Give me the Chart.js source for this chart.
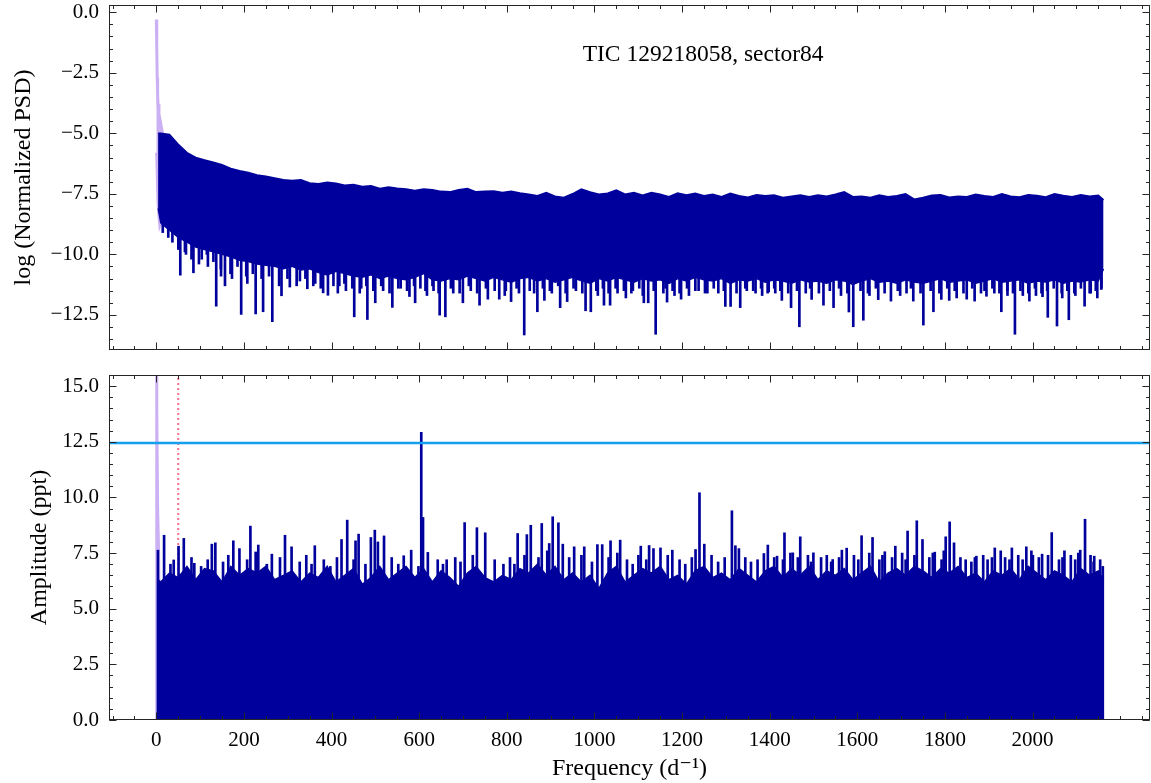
<!DOCTYPE html>
<html>
<head>
<meta charset="utf-8">
<title>TIC 129218058 periodogram</title>
<script src="https://cdn.jsdelivr.net/npm/chart.js@4.4.1/dist/chart.umd.min.js"></script>
<style>
  html, body { margin: 0; padding: 0; background: #fff; }
  #wrap { position: relative; width: 1151px; height: 783px; }
  #psdChart { position: absolute; left: 0; top: 0; }
  #ampChart { position: absolute; left: 0; top: 360px; }
</style>
</head>
<body>
<div id="wrap">
  <canvas id="psdChart" width="1151" height="360"></canvas>
  <canvas id="ampChart" width="1151" height="423"></canvas>
</div>
<script>
// ---- Data ----
// envelope sample frequencies (d^-1), shared by both panels
const envFreq = [4, 10, 30, 50, 70, 90, 110, 130, 150, 170,
  190, 210, 230, 250, 270, 290, 310, 330, 350, 370,
  390, 410, 430, 450, 470, 490, 510, 530, 550, 570,
  590, 610, 630, 650, 670, 690, 710, 730, 750, 770,
  790, 810, 830, 850, 870, 890, 910, 930, 950, 970,
  990, 1010, 1030, 1050, 1070, 1090, 1110, 1130, 1150, 1170,
  1190, 1210, 1230, 1250, 1270, 1290, 1310, 1330, 1350, 1370,
  1390, 1410, 1430, 1450, 1470, 1490, 1510, 1530, 1550, 1570,
  1590, 1610, 1630, 1650, 1670, 1690, 1710, 1730, 1750, 1770,
  1790, 1810, 1830, 1850, 1870, 1890, 1910, 1930, 1950, 1970,
  1990, 2010, 2030, 2050, 2070, 2090, 2110, 2130, 2150, 2162];

// top panel: upper edge / lower body edge of log PSD
const psdUpper = [-5.0, -5.0, -5.05, -5.45, -5.8, -6.0, -6.1, -6.2, -6.3, -6.45,
  -6.55, -6.62, -6.72, -6.78, -6.85, -6.92, -6.95, -6.92, -7.05, -7.08,
  -7.02, -7.06, -7.15, -7.12, -7.2, -7.17, -7.28, -7.22, -7.27, -7.3,
  -7.36, -7.3, -7.33, -7.4, -7.42, -7.33, -7.28, -7.42, -7.4, -7.38,
  -7.45, -7.4, -7.47, -7.52, -7.58, -7.45, -7.6, -7.65, -7.5, -7.3,
  -7.42, -7.52, -7.48, -7.35, -7.52, -7.45, -7.56, -7.45, -7.52, -7.62,
  -7.47, -7.55, -7.48, -7.58, -7.52, -7.62, -7.48, -7.58, -7.64, -7.54,
  -7.58, -7.55, -7.65, -7.6, -7.55, -7.62, -7.55, -7.6, -7.52, -7.42,
  -7.62, -7.6, -7.65, -7.55, -7.62, -7.58, -7.5, -7.72, -7.65, -7.56,
  -7.54, -7.64, -7.6, -7.62, -7.52, -7.58, -7.62, -7.5, -7.6, -7.63,
  -7.54, -7.57, -7.63, -7.5, -7.57, -7.62, -7.54, -7.6, -7.56, -7.75];
const psdLower = [-8.1, -8.7, -9.0, -9.3, -9.5, -9.7, -9.8, -9.9, -10.0, -10.1,
  -10.25, -10.3, -10.4, -10.45, -10.5, -10.6, -10.5, -10.65, -10.6, -10.75,
  -10.85, -10.7, -10.8, -10.9, -10.95, -10.85, -11.0, -10.9, -11.0, -11.05,
  -10.95, -10.8, -11.05, -11.1, -11.0, -11.05, -10.9, -11.0, -11.1, -10.95,
  -11.05, -11.15, -11.0, -10.95, -11.1, -11.0, -11.15, -11.05, -10.95, -11.1,
  -11.2, -11.0, -11.1, -10.95, -11.05, -11.15, -11.0, -11.1, -11.05, -11.2,
  -11.0, -11.1, -10.95, -11.05, -11.1, -11.0, -11.2, -11.05, -11.1, -11.0,
  -11.15, -11.05, -11.1, -11.2, -11.05, -11.15, -11.1, -11.2, -11.05, -11.1,
  -11.25, -11.1, -11.0, -11.15, -11.1, -11.2, -11.05, -11.15, -11.2, -11.1,
  -11.0, -11.15, -11.1, -11.05, -11.2, -11.1, -11.0, -11.15, -11.1, -11.05,
  -11.2, -11.1, -11.15, -11.05, -11.2, -11.1, -11.15, -11.05, -11.1, -10.6];

// top panel: deep downward spikes
const dipFreq = [17, 39, 57, 70, 87, 106, 120, 139, 150, 159,
  175, 196, 210, 229, 246, 267, 288, 307, 330, 347,
  365, 383, 394, 420, 435, 454, 470, 484, 502, 520,
  541, 560, 580, 593, 605, 620, 635, 649, 662, 680,
  702, 720, 740, 759, 785, 800, 812, 830, 842, 872,
  888, 905, 924, 940, 960, 982, 994, 1010, 1024, 1038,
  1055, 1074, 1090, 1115, 1125, 1142, 1168, 1185, 1200, 1218,
  1240, 1260, 1285, 1301, 1313, 1335, 1350, 1370, 1385, 1400,
  1415, 1430, 1451, 1470, 1498, 1525, 1548, 1565, 1583, 1593,
  1616, 1630, 1650, 1679, 1700, 1730, 1753, 1776, 1794, 1812,
  1829, 1852, 1870, 1897, 1915, 1931, 1945, 1962, 1980, 1995,
  2010, 2025, 2037, 2058, 2070, 2085, 2100, 2121, 2135, 2150, 2159];
const dipVal = [-9.1, -9.5, -10.86, -10.0, -10.76, -10.2, -10.5, -12.14, -10.9, -11.3,
  -11.0, -12.48, -11.2, -12.46, -12.37, -12.78, -11.71, -11.35, -11.1, -11.42,
  -11.2, -11.59, -11.69, -11.3, -11.5, -12.58, -11.4, -12.69, -12.0, -11.5,
  -12.19, -11.4, -11.74, -12.0, -11.4, -11.7, -11.5, -12.51, -12.58, -11.6,
  -12.0, -11.5, -12.1, -11.85, -11.85, -11.5, -11.95, -11.6, -13.33, -12.37,
  -11.9, -11.6, -12.2, -11.95, -11.5, -12.33, -12.37, -11.7, -12.1, -12.1,
  -11.6, -11.8, -11.5, -12.0, -12.0, -13.3, -11.97, -11.7, -11.85, -11.7,
  -11.5, -11.6, -11.6, -12.15, -12.15, -12.2, -11.5, -11.6, -11.7, -11.55,
  -11.6, -11.9, -12.2, -12.99, -11.86, -12.1, -12.2, -11.7, -12.38, -12.99,
  -12.72, -11.7, -11.87, -11.93, -11.7, -11.93, -12.92, -12.37, -11.86, -11.9,
  -11.8, -11.85, -11.93, -11.73, -11.6, -12.37, -11.7, -13.3, -11.7, -11.93,
  -11.7, -11.75, -12.6, -12.96, -11.8, -12.7, -11.7, -12.14, -11.6, -11.8, -11.45];

// top panel: shallower dips between the deep ones
const smallDipFreq = [25, 48, 63, 78, 95, 113, 128, 145, 167, 183,
  203, 218, 238, 255, 278, 297, 318, 338, 356, 373,
  402, 412, 427, 445, 462, 477, 493, 511, 530, 550,
  570, 586, 612, 628, 642, 670, 690, 711, 730, 750,
  770, 793, 820, 850, 860, 880, 896, 915, 932, 950,
  970, 1002, 1017, 1030, 1046, 1065, 1082, 1100, 1108, 1133,
  1155, 1160, 1176, 1192, 1209, 1228, 1250, 1270, 1293, 1322,
  1342, 1360, 1378, 1393, 1408, 1422, 1440, 1460, 1480, 1490,
  1510, 1535, 1556, 1575, 1605, 1622, 1640, 1660, 1690, 1710,
  1720, 1742, 1765, 1785, 1803, 1820, 1840, 1860, 1880, 1888,
  1906, 1922, 1940, 1953, 1970, 1988, 2003, 2018, 2031, 2046,
  2064, 2077, 2093, 2108, 2128, 2142, 2155];
const smallDipVal = [-9.3, -9.8, -9.9, -10.2, -10.4, -10.0, -10.3, -10.6, -10.8, -10.5,
  -10.9, -10.8, -11.0, -10.9, -11.3, -11.0, -11.3, -11.0, -11.3, -11.4,
  -11.3, -11.6, -11.2, -11.4, -11.6, -11.3, -11.5, -11.3, -11.6, -11.4,
  -11.5, -11.3, -11.5, -11.3, -11.6, -11.4, -11.6, -11.3, -11.6, -11.4,
  -11.5, -11.7, -11.4, -11.5, -11.6, -11.4, -11.5, -11.3, -11.6, -11.4,
  -11.6, -11.5, -11.4, -11.6, -11.4, -11.5, -11.6, -11.4, -11.7, -11.5,
  -11.6, -11.4, -11.5, -11.6, -11.4, -11.5, -11.6, -11.4, -11.5, -11.6,
  -11.4, -11.5, -11.4, -11.6, -11.4, -11.5, -11.6, -11.5, -11.6, -11.4,
  -11.6, -11.5, -11.4, -11.6, -11.5, -11.6, -11.4, -11.6, -11.5, -11.6,
  -11.4, -11.6, -11.5, -11.6, -11.4, -11.5, -11.6, -11.4, -11.6, -11.5,
  -11.4, -11.6, -11.5, -11.6, -11.5, -11.6, -11.4, -11.6, -11.5, -11.4,
  -11.6, -11.5, -11.6, -11.4, -11.6, -11.5, -11.4];

// top panel: low-frequency part (light curve)
const lilacFreq = [0, 1, 2, 3, 4, 6, 8, 10, 12, 14];
const lilacHigh = [-0.3, -1.5, -2.7, -3.4, -3.8, -4.2, -4.4, -4.6, -4.8, -5.0];
const lilacLow  = [-5.8, -5.9, -6.6, -7.3, -7.9, -8.4, -8.8, -8.7, -8.3, -7.8];

// bottom panel: amplitude body edge (ppt)
const ampEnv = [6.3, 6.2, 6.6, 6.4, 6.9, 6.3, 6.8, 6.7, 6.2, 6.9,
  6.5, 6.8, 6.6, 6.9, 6.3, 6.5, 6.7, 6.2, 6.6, 6.4,
  6.9, 6.2, 6.5, 6.8, 6.1, 6.4, 6.9, 6.3, 6.6, 6.9,
  6.4, 6.8, 6.2, 6.7, 6.4, 6.0, 6.6, 6.9, 6.4, 6.2,
  6.5, 6.3, 6.8, 6.6, 7.0, 6.5, 6.9, 6.3, 6.6, 6.2,
  6.5, 5.9, 6.6, 6.9, 6.2, 6.5, 6.8, 6.6, 6.9, 6.3,
  6.5, 6.1, 6.7, 6.9, 6.4, 6.6, 6.3, 6.8, 6.5, 6.2,
  6.7, 6.9, 6.4, 6.8, 6.5, 6.9, 6.3, 6.7, 6.5, 6.8,
  6.3, 6.6, 6.9, 6.2, 6.6, 6.8, 6.5, 6.9, 6.7, 6.4,
  6.8, 6.6, 6.9, 6.4, 6.6, 6.2, 6.7, 6.5, 6.8, 6.3,
  6.9, 6.6, 6.3, 6.7, 6.5, 6.2, 6.8, 6.5, 6.7, 6.3];

// bottom panel: tall peaks
const peakFreq = [6, 20, 42, 53, 65, 89, 129, 137, 178, 192,
  217, 229, 235, 266, 296, 311, 364, 425, 438, 457,
  464, 492, 501, 508, 522, 567, 584, 607, 611, 622,
  665, 706, 734, 753, 827, 848, 857, 882, 899, 907,
  920, 930, 956, 979, 1009, 1020, 1039, 1061, 1108, 1127,
  1137, 1153, 1180, 1233, 1242, 1253, 1316, 1324, 1332, 1389,
  1398, 1419, 1436, 1455, 1472, 1502, 1546, 1567, 1578, 1612,
  1637, 1665, 1689, 1717, 1738, 1751, 1779, 1804, 1813, 1823,
  1874, 1916, 1955, 1988, 2003, 2024, 2046, 2075, 2111, 2122, 2143];
const peakVal = [7.63, 8.3, 7.19, 7.81, 8.16, 7.04, 7.9, 7.96, 8.05, 7.7,
  8.71, 7.55, 7.86, 7.45, 8.3, 7.78, 7.83, 8.11, 8.98, 8.05,
  8.35, 8.2, 8.53, 8.0, 8.27, 7.38, 7.63, 12.92, 9.1, 7.53,
  7.2, 8.87, 8.64, 8.41, 8.38, 8.33, 8.75, 8.83, 7.93, 9.13,
  8.86, 7.9, 7.78, 7.78, 7.88, 7.88, 8.05, 8.08, 7.81, 7.84,
  7.7, 7.73, 7.63, 7.66, 10.21, 7.9, 9.4, 7.83, 7.7, 7.48,
  7.86, 7.36, 8.41, 7.51, 8.23, 7.51, 7.21, 7.63, 7.72, 8.28,
  8.2, 7.56, 7.81, 8.49, 8.95, 8.11, 7.54, 8.23, 8.9, 7.96,
  7.36, 7.73, 7.73, 7.78, 7.4, 7.45, 8.42, 7.6, 7.63, 9.02, 7.36];

// bottom panel: medium peaks between the tall ones
const smallPeakFreq = [30, 78, 100, 115, 150, 162, 205, 250, 280, 325,
  340, 352, 380, 395, 410, 448, 475, 535, 550, 596,
  640, 652, 680, 692, 720, 770, 790, 805, 815, 838,
  870, 890, 940, 968, 992, 1030, 1050, 1072, 1085, 1098,
  1116, 1165, 1192, 1205, 1220, 1265, 1280, 1295, 1342, 1355,
  1370, 1408, 1428, 1445, 1462, 1485, 1492, 1515, 1528, 1538,
  1556, 1590, 1600, 1625, 1648, 1655, 1677, 1700, 1708, 1728,
  1762, 1770, 1790, 1795, 1833, 1845, 1858, 1866, 1885, 1895,
  1905, 1925, 1935, 1945, 1965, 1975, 1995, 2012, 2033, 2058,
  2066, 2085, 2095, 2102, 2130, 2137, 2152, 2158];
const smallPeakVal = [7.0, 7.3, 6.9, 7.2, 7.1, 7.4, 7.2, 7.0, 7.3, 7.1,
  7.4, 7.0, 7.2, 6.9, 7.3, 7.2, 7.0, 7.3, 7.0, 6.9,
  7.2, 7.0, 7.3, 7.1, 7.4, 7.2, 7.0, 7.3, 7.0, 7.4,
  7.3, 7.6, 7.3, 7.4, 7.1, 7.3, 7.5, 7.2, 7.0, 7.4,
  7.2, 7.4, 7.2, 7.0, 7.3, 7.4, 7.1, 7.3, 7.3, 7.1,
  7.2, 7.3, 7.2, 7.5, 7.3, 7.4, 7.1, 7.3, 7.4, 7.1,
  7.3, 7.4, 7.2, 7.5, 7.2, 7.4, 7.3, 7.5, 7.2, 7.4,
  7.3, 7.5, 7.2, 7.6, 7.3, 7.2, 7.1, 7.3, 7.4, 7.2,
  7.3, 7.6, 7.3, 7.2, 7.4, 7.2, 7.6, 7.3, 7.4, 7.2,
  7.3, 7.4, 7.2, 7.5, 7.4, 7.1, 7.2, 6.9];

// bottom panel: low-frequency part (light curve)
const lilacAmpFreq = [0, 0.5, 1.5, 3, 5, 7, 9, 12];
const lilacAmp     = [0, 40, 14, 9.5, 7.8, 4, 1, 0];

const ampThreshold = 12.45;   // significance level (ppt)
const cutoffFreq = 50;        // dotted marker (d^-1)

// ticks
const freqTicks = [0, 200, 400, 600, 800, 1000, 1200, 1400, 1600, 1800, 2000];
const psdTicks = [-12.5, -10, -7.5, -5, -2.5, 0];
const ampTicks = [0, 2.5, 5, 7.5, 10, 12.5, 15];

// ---- Styles ----
const SERIF = '"Liberation Serif", "DejaVu Serif", serif';
const DARK = '#00009c';
const LILAC = '#cbb1f4';
const SKY = '#14a0ef';
const PINK = '#f4708c';
const X_MIN = -108, X_MAX = 2268;

const toPts = (xs, ys) => xs.map((x, i) => ({ x, y: ys[i] }));
const fmt = v => Number(v).toFixed(1).replace('-', '\u2212');

// ---- Frame with inward ticks on all four sides ----
const frameTicks = {
  id: 'frameTicks',
  afterDatasetsDraw(chart) {
    const { ctx, chartArea: a } = chart;
    const xs = chart.scales.x, ys = chart.scales.y;
    const cfg = chart.config.options.frame;
    const T = Math.round(a.top) + 0.5, B = Math.round(a.bottom) - 0.5;
    const L = Math.round(a.left) + 0.5, R = Math.round(a.right) - 0.5;
    ctx.save();
    ctx.strokeStyle = '#262626';
    ctx.lineWidth = 1;
    ctx.beginPath();
    const tx = (v, len) => {
      const p = Math.round(xs.getPixelForValue(v)) + 0.5;
      ctx.moveTo(p, B); ctx.lineTo(p, B - len);
      ctx.moveTo(p, T); ctx.lineTo(p, T + len);
    };
    const ty = (v, len) => {
      const p = Math.round(ys.getPixelForValue(v)) + 0.5;
      ctx.moveTo(L, p); ctx.lineTo(L + len, p);
      ctx.moveTo(R, p); ctx.lineTo(R - len, p);
    };
    for (let k = Math.ceil(xs.min / 50); k * 50 <= xs.max; k++) tx(k * 50, 3.5);
    freqTicks.forEach(v => tx(v, 7));
    for (let k = Math.ceil(ys.min / 0.5); k * 0.5 <= ys.max; k++) ty(k * 0.5, 3.5);
    cfg.yMajor.forEach(v => ty(v, 7));
    ctx.stroke();
    ctx.strokeRect(L, T, R - L, B - T);
    ctx.restore();
  }
};

// ---- Text label inside the top panel ----
const tag = {
  id: 'tag',
  afterDraw(chart) {
    const { ctx, chartArea: a } = chart;
    ctx.save();
    ctx.fillStyle = '#000';
    ctx.font = '23.5px ' + SERIF;
    ctx.textBaseline = 'middle';
    ctx.fillText('TIC 129218058, sector84', a.left + 0.455 * a.width, a.top + 0.145 * a.height);
    ctx.restore();
  }
};

const yAxis = (min, max, ticks, title, titlePad) => ({
  type: 'linear', min, max,
  afterBuildTicks: s => { s.ticks = ticks.map(v => ({ value: v })); },
  afterFit: s => { s.width = 109; s.paddingTop = 0; s.paddingBottom = 0; },
  grid: { display: false, drawTicks: false },
  border: { display: false },
  ticks: { padding: 10, color: '#000', font: { family: SERIF, size: 21 }, callback: fmt },
  title: { display: true, text: title, color: '#000',
           font: { family: SERIF, size: 24, lineHeight: 1.2 }, padding: { top: titlePad, bottom: 0 } }
});

const common = {
  responsive: false, animation: false, devicePixelRatio: 1,
  elements: { point: { radius: 0 }, line: { tension: 0 } },
  plugins: { legend: { display: false }, tooltip: { enabled: false } }
};

const spikes = (fs, vs, base) => fs.map((f, i) => ({ x: f, y: [vs[i], base] }));

// ---- Top panel: log PSD ----
new Chart(document.getElementById('psdChart'), {
  type: 'line',
  data: {
    datasets: [
      { data: toPts(envFreq, psdUpper), borderColor: DARK, backgroundColor: DARK, borderWidth: 1.6, fill: '+1', order: 2 },
      { data: toPts(envFreq, psdLower), borderColor: DARK, borderWidth: 1.3, fill: false, order: 2 },
      { type: 'bar', data: spikes(dipFreq, dipVal, -8.5), backgroundColor: DARK, barThickness: 2, order: 1 },
      { type: 'bar', data: spikes(smallDipFreq, smallDipVal, -8.5), backgroundColor: DARK, barThickness: 2, order: 1 },
      { data: toPts(lilacFreq, lilacHigh), borderColor: LILAC, backgroundColor: LILAC, borderWidth: 3, fill: '+1', order: 5 },
      { data: toPts(lilacFreq, lilacLow), borderColor: LILAC, borderWidth: 3, fill: false, order: 5 }
    ]
  },
  options: {
    ...common,
    frame: { yMajor: psdTicks },
    layout: { padding: { top: 5, right: 1, bottom: 10, left: 0 } },
    scales: {
      x: { type: 'linear', min: X_MIN, max: X_MAX, display: false, offset: false },
      y: yAxis(-13.95, 0.3, psdTicks, 'log (Normalized PSD)', 9.6)
    }
  },
  plugins: [frameTicks, tag]
});

// ---- Bottom panel: amplitude spectrum ----
new Chart(document.getElementById('ampChart'), {
  type: 'line',
  data: {
    datasets: [
      { data: [{ x: X_MIN, y: ampThreshold }, { x: X_MAX, y: ampThreshold }],
        borderColor: SKY, borderWidth: 2.5, order: 0 },
      { type: 'bar', data: spikes(peakFreq, peakVal, 0), backgroundColor: DARK, barThickness: 2, order: 1 },
      { type: 'bar', data: spikes(smallPeakFreq, smallPeakVal, 0), backgroundColor: DARK, barThickness: 2, order: 1 },
      { data: toPts(envFreq, ampEnv), borderColor: DARK, backgroundColor: DARK, borderWidth: 1.5, fill: 'origin', order: 2 },
      { data: toPts(lilacAmpFreq, lilacAmp), borderColor: LILAC, backgroundColor: LILAC, borderWidth: 3, fill: 'origin', order: 3 },
      { data: [{ x: cutoffFreq, y: 0 }, { x: cutoffFreq, y: 15.5 }],
        borderColor: PINK, borderWidth: 2, borderDash: [2, 3], order: 4 }
    ]
  },
  options: {
    ...common,
    frame: { yMajor: ampTicks },
    layout: { padding: { top: 15, right: 1, bottom: 0, left: 0 } },
    scales: {
      x: {
        type: 'linear', min: X_MIN, max: X_MAX, offset: false,
        afterBuildTicks: s => { s.ticks = freqTicks.map(v => ({ value: v })); },
        afterFit: s => { s.height = 63; s.paddingLeft = 0; s.paddingRight = 0; },
        grid: { display: false, drawTicks: false },
        border: { display: false },
        ticks: { padding: 8, maxRotation: 0, autoSkip: false, color: '#000',
                 font: { family: SERIF, size: 21 }, callback: v => String(v) },
        title: { display: true, text: 'Frequency (d\u207B\u00B9)', color: '#000',
                 font: { family: SERIF, size: 24, lineHeight: 1.2 }, padding: { top: 0, bottom: 0 } }
      },
      y: yAxis(0, 15.5, ampTicks, 'Amplitude (ppt)', 25.6)
    }
  },
  plugins: [frameTicks]
});
</script>
</body>
</html>
